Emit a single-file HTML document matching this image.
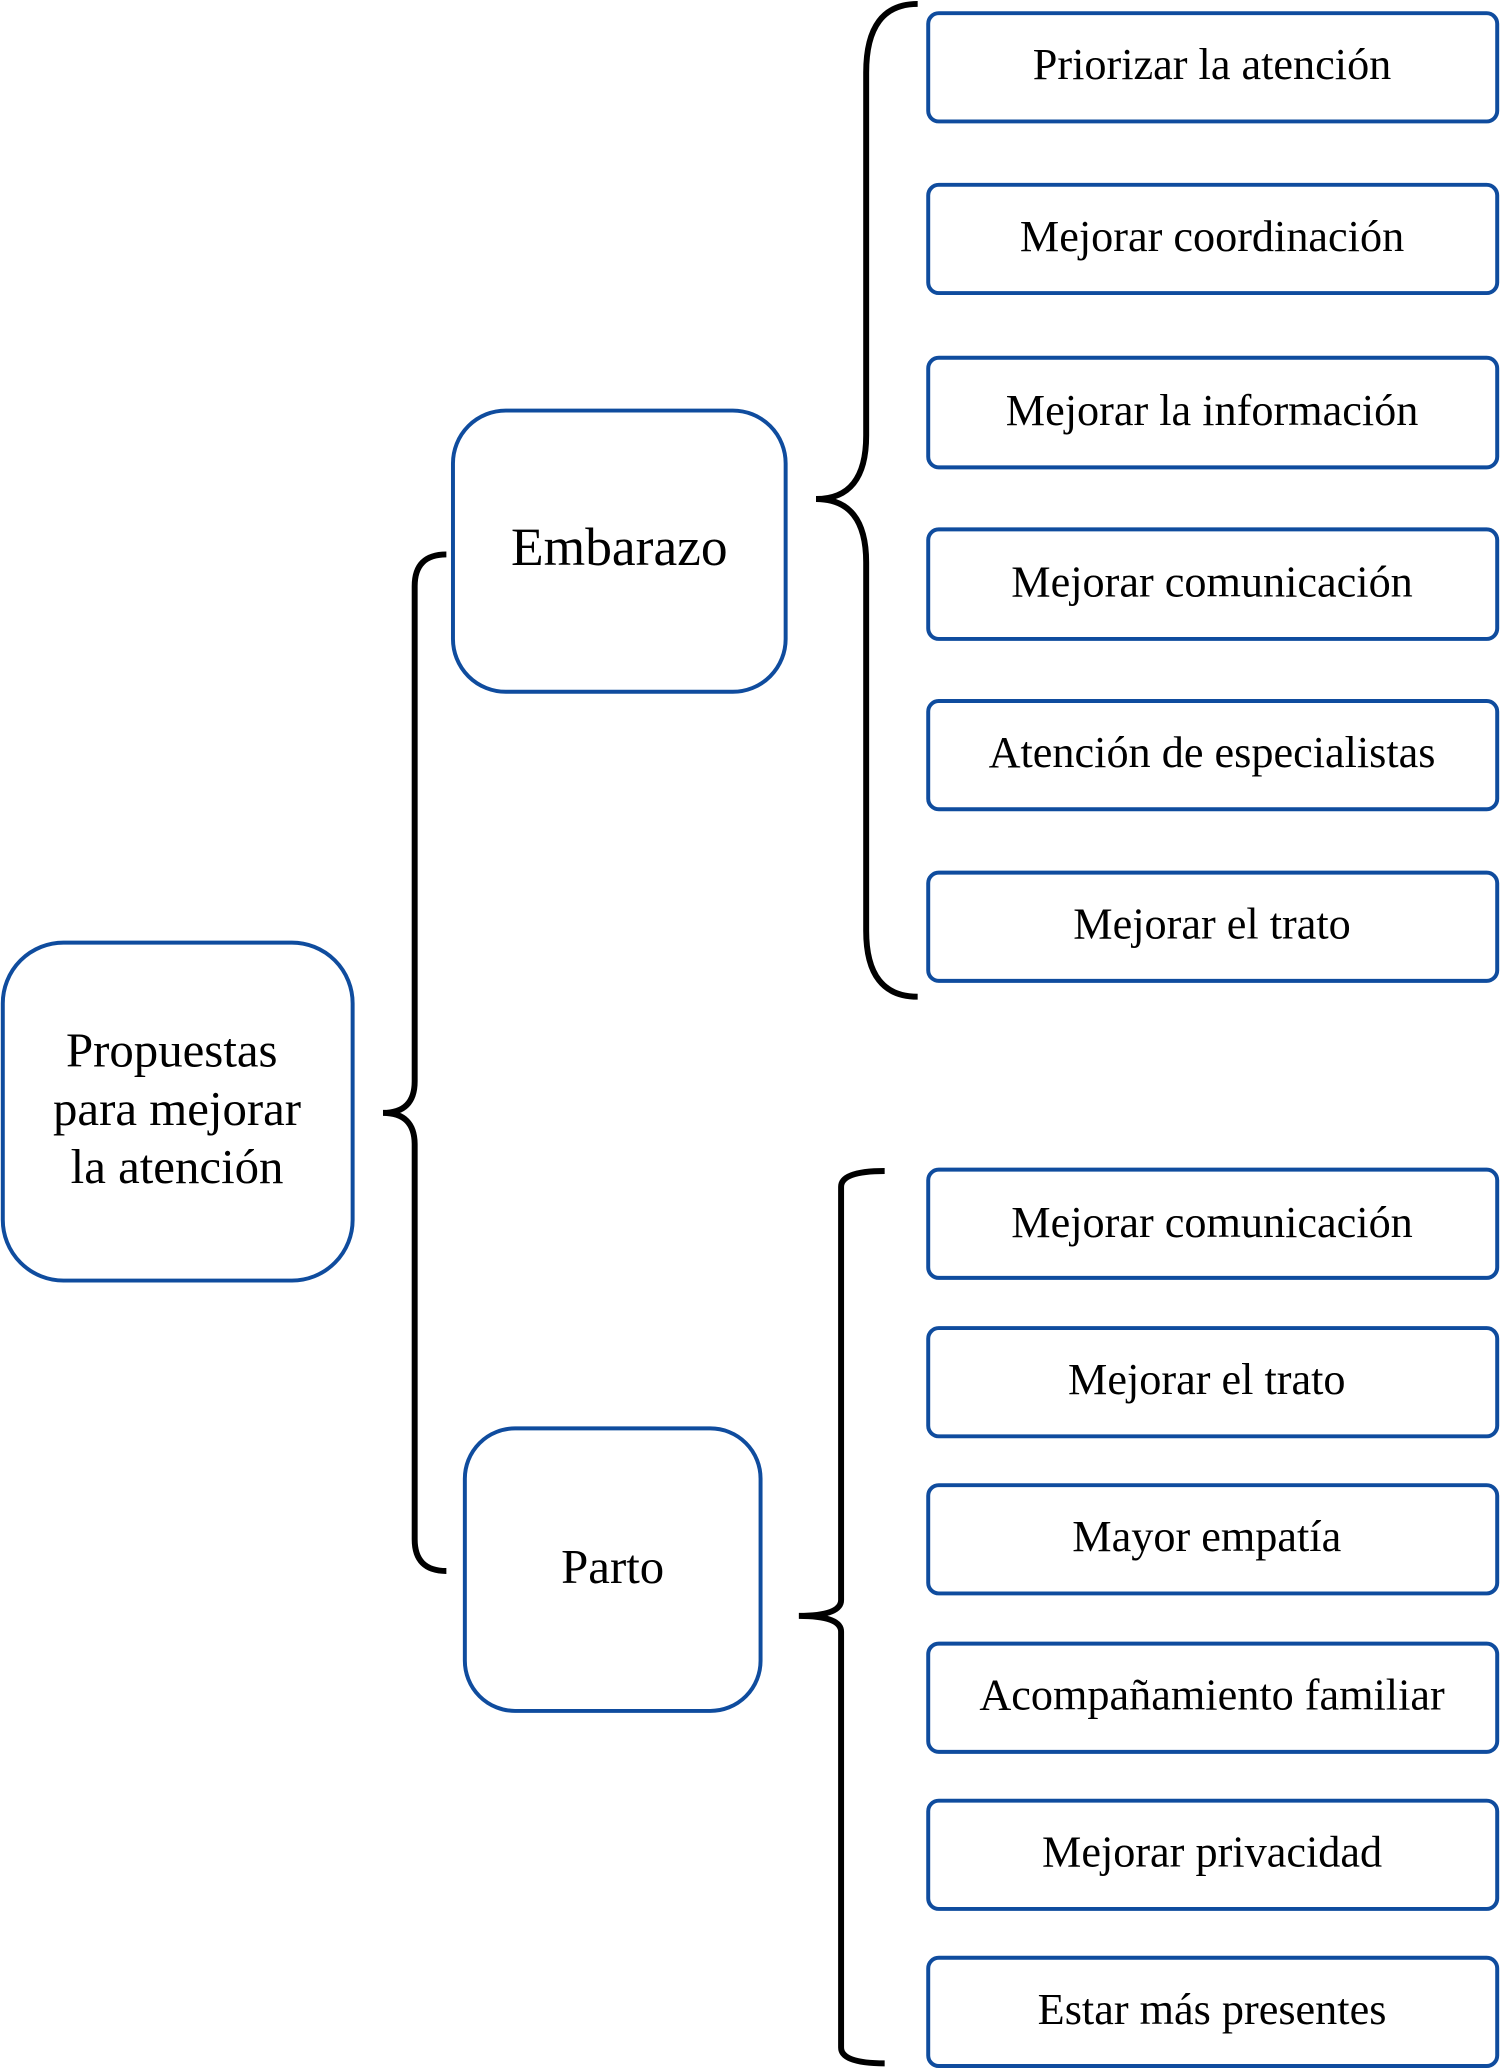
<!DOCTYPE html>
<html><head><meta charset="utf-8"><style>html,body{margin:0;padding:0;background:#fff}svg{display:block}</style></head>
<body>
<svg width="1500" height="2070" viewBox="0 0 1136 1568" xmlns="http://www.w3.org/2000/svg" font-family="'Liberation Serif', serif" text-anchor="middle">
<g fill="none" stroke="#0f4c9e" stroke-width="3">
<rect x="2" y="714" width="265" height="256" rx="46"/>
<rect x="343" y="311" width="252" height="213" rx="40"/>
<rect x="352" y="1082" width="224" height="214" rx="38"/>
<rect x="703" y="10" width="431" height="82" rx="8"/>
<rect x="703" y="140" width="431" height="82" rx="8"/>
<rect x="703" y="271" width="431" height="83" rx="8"/>
<rect x="703" y="401" width="431" height="83" rx="8"/>
<rect x="703" y="531" width="431" height="82" rx="8"/>
<rect x="703" y="661" width="431" height="82" rx="8"/>
<rect x="703" y="886" width="431" height="82" rx="8"/>
<rect x="703" y="1006" width="431" height="82" rx="8"/>
<rect x="703" y="1125" width="431" height="82" rx="8"/>
<rect x="703" y="1245" width="431" height="82" rx="8"/>
<rect x="703" y="1364" width="431" height="82" rx="8"/>
<rect x="703" y="1483" width="431" height="82" rx="8"/>
</g>
<g fill="none" stroke="#000" stroke-width="4.5">
<path d="M338,420 Q314,420 314,444 L314,819 Q314,843 290,843 Q314,843 314,867 L314,1166 Q314,1190 338,1190"/>
<path d="M695,3 Q656,3 656,55 L656,330 Q656,378 618,378 Q656,378 656,426 L656,705 Q656,755 695,755"/>
<path d="M670,887 Q637,887 637,899 L637,1212 Q637,1224 605,1224 Q637,1224 637,1236 L637,1551 Q637,1563 670,1563"/>
</g>
<g fill="#000">
<text x="130" y="808" font-size="37">Propuestas</text>
<text x="134" y="852" font-size="37">para mejorar</text>
<text x="134" y="896" font-size="37">la atención</text>
<text x="469" y="428" font-size="40.5">Embarazo</text>
<text x="464" y="1199" font-size="37">Parto</text>
<g font-size="33.5">
<text x="918" y="60">Priorizar la atención</text>
<text x="918" y="190">Mejorar coordinación</text>
<text x="918" y="322">Mejorar la información</text>
<text x="918" y="452">Mejorar comunicación</text>
<text x="918" y="581">Atención de especialistas</text>
<text x="918" y="711">Mejorar el trato</text>
<text x="918" y="937">Mejorar comunicación</text>
<text x="914" y="1056">Mejorar el trato</text>
<text x="914" y="1175">Mayor empatía</text>
<text x="918" y="1295">Acompañamiento familiar</text>
<text x="918" y="1414">Mejorar privacidad</text>
<text x="918" y="1533">Estar más presentes</text>
</g>
</g>
</svg>
</body></html>
